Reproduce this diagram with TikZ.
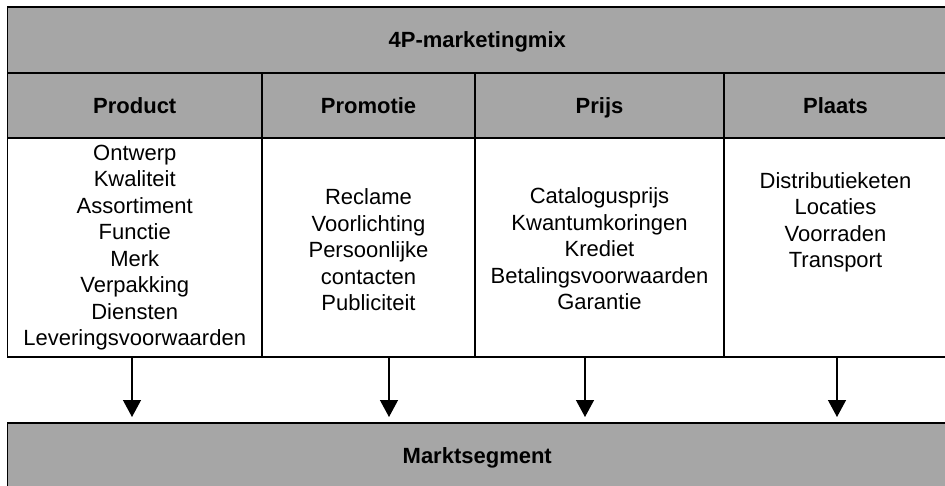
\documentclass[tikz,border=0pt]{standalone}
\usepackage{fontspec}
\setmainfont{Liberation Sans}
\usetikzlibrary{arrows.meta}
\definecolor{cellgray}{RGB}{166,166,166}
\tikzset{
  box/.style={draw=black, line width=1.8pt, rectangle, inner sep=0pt, outer sep=0pt, align=center},
  graybox/.style={box, fill=cellgray, font=\fontsize{22}{26.5}\selectfont\bfseries, text height=15.8pt, text depth=0pt},
  whitebox/.style={box, fill=white, font=\fontsize{22}{26.5}\selectfont},
  itemtext/.style={align=center, inner sep=0pt, font=\fontsize{22}{26.5}\selectfont},
  arr/.style={line width=1.3pt, -{Triangle[width=18pt,length=17pt]}, shorten >=6pt}
}
\begin{document}
\begin{tikzpicture}[x=1pt,y=-1pt]
\useasboundingbox (0,0) rectangle (945,485);
% top title
\node[graybox, minimum width=939.5pt, minimum height=66pt] (top) at (477.25,40) {4P-marketingmix};
% headers
\node[graybox, minimum width=254.5pt, minimum height=65pt] (h1) at (134.75,105.5) {Product};
\node[graybox, minimum width=213pt, minimum height=65pt] (h2) at (368.5,105.5) {Promotie};
\node[graybox, minimum width=249pt, minimum height=65pt] (h3) at (599.5,105.5) {Prijs};
\node[graybox, minimum width=223pt, minimum height=65pt] (h4) at (835.5,105.5) {Plaats};
% content cells
\node[whitebox, minimum width=254.5pt, minimum height=219pt] (c1) at (134.75,247.5) {Ontwerp\\Kwaliteit\\Assortiment\\Functie\\Merk\\Verpakking\\Diensten\\Leveringsvoorwaarden};
\node[whitebox, minimum width=213pt, minimum height=219pt] (c2) at (368.5,247.5) {};
\node[whitebox, minimum width=249pt, minimum height=219pt] (c3) at (599.5,247.5) {};
\node[whitebox, minimum width=223pt, minimum height=219pt] (c4) at (835.5,247.5) {};
\node[itemtext] (t2) at (368.5,250) {Reclame\\Voorlichting\\Persoonlijke\\contacten\\Publiciteit};
\node[itemtext] (t3) at (599.5,249) {Catalogusprijs\\Kwantumkoringen\\Krediet\\Betalingsvoorwaarden\\Garantie};
\node[itemtext] (t4) at (835.5,222.5) {Distributieketen\\Locaties\\Voorraden\\Transport};
% bottom
\node[graybox, minimum width=939.5pt, minimum height=65pt] (bot) at (477.25,455.5) {Marktsegment};
% arrow x positions
\coordinate (ax1) at (132,0);
\coordinate (ax2) at (389,0);
\coordinate (ax3) at (585,0);
\coordinate (ax4) at (837,0);
\draw[arr] (c1.south -| ax1) -- (bot.north -| ax1);
\draw[arr] (c2.south -| ax2) -- (bot.north -| ax2);
\draw[arr] (c3.south -| ax3) -- (bot.north -| ax3);
\draw[arr] (c4.south -| ax4) -- (bot.north -| ax4);
\end{tikzpicture}
\end{document}
